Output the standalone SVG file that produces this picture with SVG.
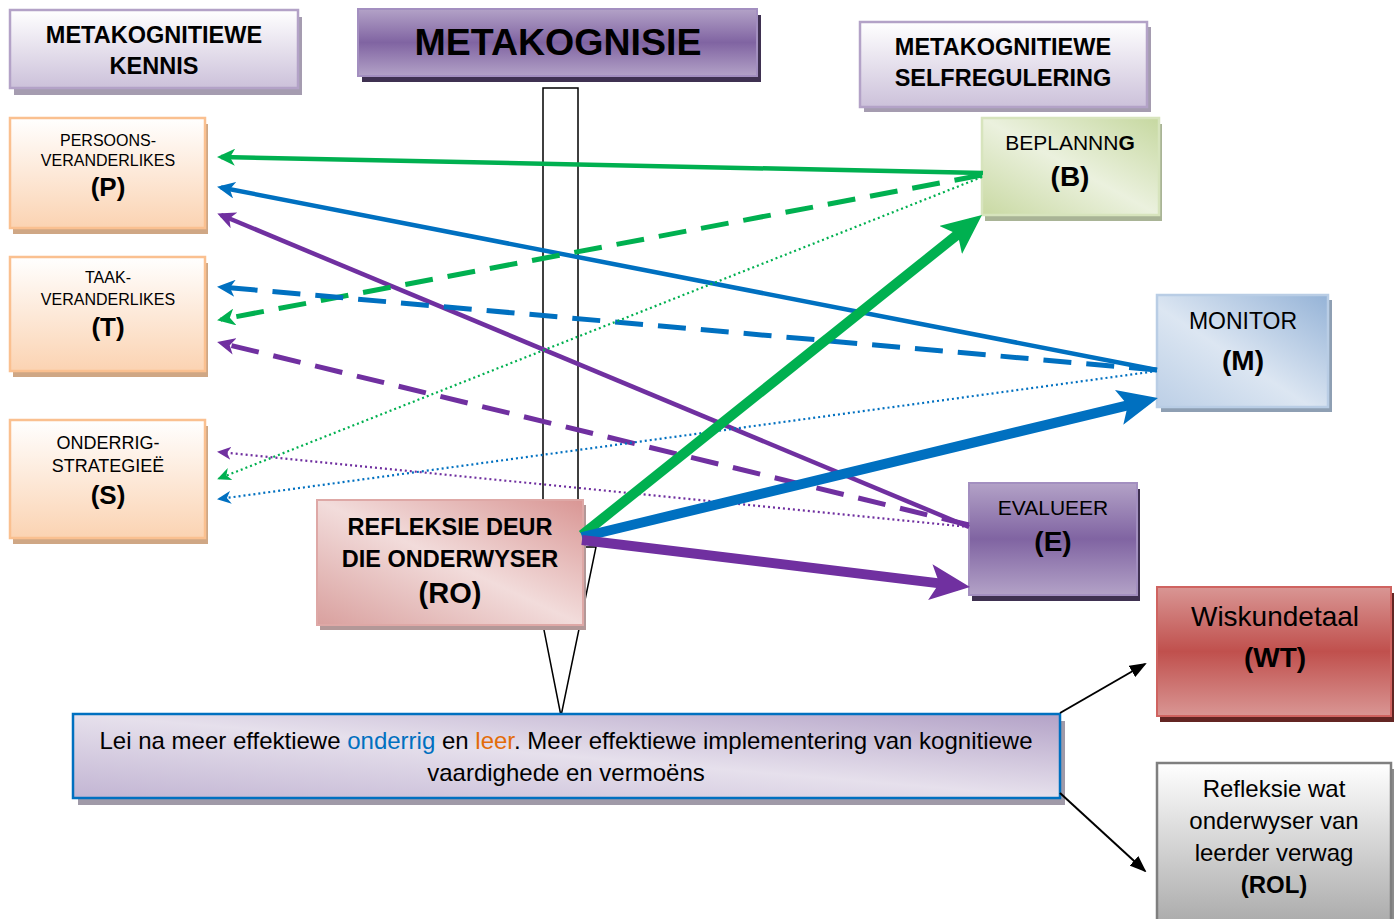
<svg xmlns="http://www.w3.org/2000/svg" width="1399" height="919" viewBox="0 0 1399 919">
<defs>
  <linearGradient id="gLav" x1="0" y1="0" x2="0" y2="1"><stop offset="0" stop-color="#ffffff"/><stop offset="1" stop-color="#ccc1da"/></linearGradient>
  <linearGradient id="gPurp" x1="0" y1="0" x2="0" y2="1"><stop offset="0" stop-color="#b3a2c7"/><stop offset="0.5" stop-color="#8064a2"/><stop offset="1" stop-color="#b3a2c7"/></linearGradient>
  <linearGradient id="gOr" x1="0" y1="0" x2="0" y2="1"><stop offset="0" stop-color="#ffffff"/><stop offset="1" stop-color="#fbd3b2"/></linearGradient>
  <linearGradient id="gGr" x1="1" y1="0" x2="0" y2="1"><stop offset="0" stop-color="#c6d8a0"/><stop offset="0.5" stop-color="#ebf1de"/><stop offset="1" stop-color="#c9d9a3"/></linearGradient>
  <linearGradient id="gBl" x1="1" y1="0" x2="0" y2="1"><stop offset="0" stop-color="#95b3d7"/><stop offset="0.55" stop-color="#dce6f2"/><stop offset="1" stop-color="#bccfe6"/></linearGradient>
  <linearGradient id="gPk" x1="1" y1="0" x2="0" y2="1"><stop offset="0" stop-color="#d99694"/><stop offset="0.5" stop-color="#f2dcdb"/><stop offset="1" stop-color="#d9a09e"/></linearGradient>
  <linearGradient id="gBot" x1="1" y1="0" x2="0" y2="1"><stop offset="0" stop-color="#b3a2c7"/><stop offset="0.5" stop-color="#e6e0ec"/><stop offset="1" stop-color="#c2b5d3"/></linearGradient>
  <linearGradient id="gRed" x1="0" y1="0" x2="0" y2="1"><stop offset="0" stop-color="#d99694"/><stop offset="0.5" stop-color="#c0504d"/><stop offset="1" stop-color="#d99694"/></linearGradient>
  <linearGradient id="gGray" x1="0" y1="0" x2="0" y2="1"><stop offset="0" stop-color="#ffffff"/><stop offset="1" stop-color="#a6a6a6"/></linearGradient>

  <marker id="mG" markerUnits="userSpaceOnUse" markerWidth="18" markerHeight="17" refX="14" refY="8.5" orient="auto"><path d="M0,0 L18,8.5 L0,17 L5,8.5 Z" fill="#00b050"/></marker>
  <marker id="mB" markerUnits="userSpaceOnUse" markerWidth="18" markerHeight="17" refX="14" refY="8.5" orient="auto"><path d="M0,0 L18,8.5 L0,17 L5,8.5 Z" fill="#0070c0"/></marker>
  <marker id="mP" markerUnits="userSpaceOnUse" markerWidth="18" markerHeight="17" refX="14" refY="8.5" orient="auto"><path d="M0,0 L18,8.5 L0,17 L5,8.5 Z" fill="#7030a0"/></marker>
  <marker id="sG" markerUnits="userSpaceOnUse" markerWidth="14" markerHeight="13" refX="12" refY="6.5" orient="auto"><path d="M0,0 L14,6.5 L0,13 L4,6.5 Z" fill="#00b050"/></marker>
  <marker id="sB" markerUnits="userSpaceOnUse" markerWidth="14" markerHeight="13" refX="12" refY="6.5" orient="auto"><path d="M0,0 L14,6.5 L0,13 L4,6.5 Z" fill="#0070c0"/></marker>
  <marker id="sP" markerUnits="userSpaceOnUse" markerWidth="14" markerHeight="13" refX="12" refY="6.5" orient="auto"><path d="M0,0 L14,6.5 L0,13 L4,6.5 Z" fill="#7030a0"/></marker>
  <marker id="lG" markerUnits="userSpaceOnUse" markerWidth="40" markerHeight="36" refX="28" refY="18" orient="auto"><path d="M0,0 L40,18 L0,36 L9,18 Z" fill="#00b050"/></marker>
  <marker id="lB" markerUnits="userSpaceOnUse" markerWidth="40" markerHeight="36" refX="28" refY="18" orient="auto"><path d="M0,0 L40,18 L0,36 L9,18 Z" fill="#0070c0"/></marker>
  <marker id="lP" markerUnits="userSpaceOnUse" markerWidth="40" markerHeight="36" refX="28" refY="18" orient="auto"><path d="M0,0 L40,18 L0,36 L9,18 Z" fill="#7030a0"/></marker>
  <marker id="k" markerUnits="userSpaceOnUse" markerWidth="17" markerHeight="13" refX="15" refY="6.5" orient="auto"><path d="M0,0 L17,6.5 L0,13 Z" fill="#000"/></marker>
</defs>
<style>
  text{font-family:"Liberation Sans",Arial,sans-serif;text-anchor:middle;fill:#000}
  .b{font-weight:bold}
  .sol{fill:none;stroke-width:4.5}
  .dash{fill:none;stroke-width:5;stroke-dasharray:28 15}
  .dot{fill:none;stroke-width:2.2;stroke-dasharray:2 3}
  .thick{fill:none;stroke-width:10}
  .g{stroke:#00b050}.bl{stroke:#0070c0}.p{stroke:#7030a0}
  .blk{stroke:#000;stroke-width:2;fill:none}
</style>
<rect width="1399" height="919" fill="#ffffff"/>

<g id="callout">
  <path d="M543,88 H578 V547 H596 L561,716 L543,625 Z" fill="#ffffff" stroke="#000" stroke-width="1.5"/>
</g>

<g id="mk-kennis">
  <rect x="14" y="17" width="288" height="78" fill="#a59cb0"/>
  <rect x="10" y="10" width="288" height="78" fill="url(#gLav)" stroke="#b3a2c7" stroke-width="2.5"/>
  <text x="154" y="43" font-size="23.5" class="b">METAKOGNITIEWE</text>
  <text x="154" y="74" font-size="23.5" class="b">KENNIS</text>
</g>
<g id="metakognisie">
  <rect x="362" y="15" width="399" height="67" fill="#3f3151"/>
  <rect x="358" y="9" width="399" height="67" fill="url(#gPurp)" stroke="#a38fc0" stroke-width="2"/>
  <text x="558" y="55" font-size="37.5" class="b">METAKOGNISIE</text>
</g>
<g id="mk-selfregulering">
  <rect x="864" y="27" width="287" height="85" fill="#a59cb0"/>
  <rect x="860" y="22" width="287" height="85" fill="url(#gLav)" stroke="#b3a2c7" stroke-width="2.5"/>
  <text x="1003" y="55" font-size="23.5" class="b">METAKOGNITIEWE</text>
  <text x="1003" y="86" font-size="23.5" class="b">SELFREGULERING</text>
</g>
<g id="P">
  <rect x="13" y="124" width="195" height="110" fill="#cfa785"/>
  <rect x="10" y="118" width="195" height="110" fill="url(#gOr)" stroke="#fac090" stroke-width="2.5"/>
  <text x="108" y="146" font-size="16">PERSOONS-</text>
  <text x="108" y="166" font-size="16">VERANDERLIKES</text>
  <text x="108" y="196" font-size="26" class="b">(P)</text>
</g>
<g id="T">
  <rect x="13" y="263" width="195" height="114" fill="#cfa785"/>
  <rect x="10" y="257" width="195" height="114" fill="url(#gOr)" stroke="#fac090" stroke-width="2.5"/>
  <text x="108" y="283" font-size="16">TAAK-</text>
  <text x="108" y="305" font-size="16">VERANDERLIKES</text>
  <text x="108" y="336" font-size="26" class="b">(T)</text>
</g>
<g id="S">
  <rect x="13" y="426" width="195" height="118" fill="#cfa785"/>
  <rect x="10" y="420" width="195" height="118" fill="url(#gOr)" stroke="#fac090" stroke-width="2.5"/>
  <text x="108" y="449" font-size="18">ONDERRIG-</text>
  <text x="108" y="472" font-size="18">STRATEGIEË</text>
  <text x="108" y="504" font-size="26" class="b">(S)</text>
</g>
<g id="B">
  <rect x="985" y="124" width="177" height="97" fill="#a9b496"/>
  <rect x="982" y="118" width="177" height="97" fill="url(#gGr)" stroke="#d7e4bd" stroke-width="2.5"/>
  <text x="1070" y="150" font-size="21">BEPLANNN<tspan class="b">G</tspan></text>
  <text x="1070" y="186" font-size="28" class="b">(B)</text>
</g>
<g id="M">
  <rect x="1161" y="300" width="171" height="112" fill="#8e9fb3"/>
  <rect x="1157" y="295" width="171" height="112" fill="url(#gBl)" stroke="#b9cde5" stroke-width="2.5"/>
  <text x="1243" y="329" font-size="23">MONITOR</text>
  <text x="1243" y="370" font-size="28" class="b">(M)</text>
</g>
<g id="E">
  <rect x="972" y="489" width="168" height="112" fill="#3f3151"/>
  <rect x="969" y="483" width="168" height="112" fill="url(#gPurp)" stroke="#a38fc0" stroke-width="2"/>
  <text x="1053" y="515" font-size="21">EVALUEER</text>
  <text x="1053" y="551" font-size="28" class="b">(E)</text>
</g>
<g id="RO">
  <rect x="320" y="505" width="266" height="125" fill="#b39898"/>
  <rect x="317" y="500" width="266" height="125" fill="url(#gPk)" stroke="#dea8a6" stroke-width="2"/>
  <text x="450" y="535" font-size="23.5" class="b">REFLEKSIE DEUR</text>
  <text x="450" y="567" font-size="23.5" class="b">DIE ONDERWYSER</text>
  <text x="450" y="603" font-size="29" class="b">(RO)</text>
</g>
<g id="uitkoms">
  <rect x="78" y="721" width="987" height="84" fill="#a09aa8"/>
  <rect x="73" y="714" width="987" height="84" fill="url(#gBot)" stroke="#0070c0" stroke-width="2.5"/>
  <text x="566" y="749" font-size="24">Lei na meer effektiewe <tspan fill="#0070c0">onderrig</tspan> en <tspan fill="#e36c09">leer</tspan>. Meer effektiewe implementering van kognitiewe</text>
  <text x="566" y="781" font-size="24">vaardighede en vermoëns</text>
</g>
<g id="WT">
  <rect x="1160" y="593" width="234" height="129" fill="#632523"/>
  <rect x="1157" y="587" width="234" height="129" fill="url(#gRed)" stroke="#cf6360" stroke-width="2"/>
  <text x="1275" y="626" font-size="28">Wiskundetaal</text>
  <text x="1275" y="667" font-size="28" class="b">(WT)</text>
</g>
<g id="ROL">
  <rect x="1160" y="769" width="234" height="170" fill="#8c8c8c"/>
  <rect x="1157" y="763" width="234" height="170" fill="url(#gGray)" stroke="#7f7f7f" stroke-width="2.5"/>
  <text x="1274" y="797" font-size="24">Refleksie wat</text>
  <text x="1274" y="829" font-size="24">onderwyser van</text>
  <text x="1274" y="861" font-size="24">leerder verwag</text>
  <text x="1274" y="893" font-size="24" class="b">(ROL)</text>
</g>

<g id="connectors">
  <line class="sol g" x1="983" y1="173" x2="221" y2="157" marker-end="url(#mG)"/>
  <line class="sol bl" x1="1157" y1="370" x2="221" y2="187.5" marker-end="url(#mB)"/>
  <line class="sol p" x1="969" y1="527" x2="221" y2="215" marker-end="url(#mP)"/>
  <line class="dash g" x1="982" y1="175" x2="221" y2="319.5" marker-end="url(#mG)"/>
  <line class="dash bl" x1="1157" y1="370" x2="221" y2="287" marker-end="url(#mB)"/>
  <line class="dash p" x1="969" y1="525" x2="221" y2="343" marker-end="url(#mP)"/>
  <line class="dot g" x1="982" y1="177" x2="219" y2="478.5" marker-end="url(#sG)"/>
  <line class="dot bl" x1="1157" y1="371" x2="219" y2="499" marker-end="url(#sB)"/>
  <line class="dot p" x1="969" y1="527" x2="219" y2="452" marker-end="url(#sP)"/>
  <line class="thick g" x1="582" y1="535" x2="972.6" y2="222.5" marker-end="url(#lG)"/>
  <line class="thick bl" x1="582" y1="537" x2="1146.3" y2="400.8" marker-end="url(#lB)"/>
  <line class="thick p" x1="582" y1="540" x2="958.1" y2="585.6" marker-end="url(#lP)"/>
  <line class="blk" x1="1060" y1="713" x2="1145" y2="664" marker-end="url(#k)"/>
  <line class="blk" x1="1060" y1="793" x2="1145" y2="871" marker-end="url(#k)"/>
</g>
</svg>
